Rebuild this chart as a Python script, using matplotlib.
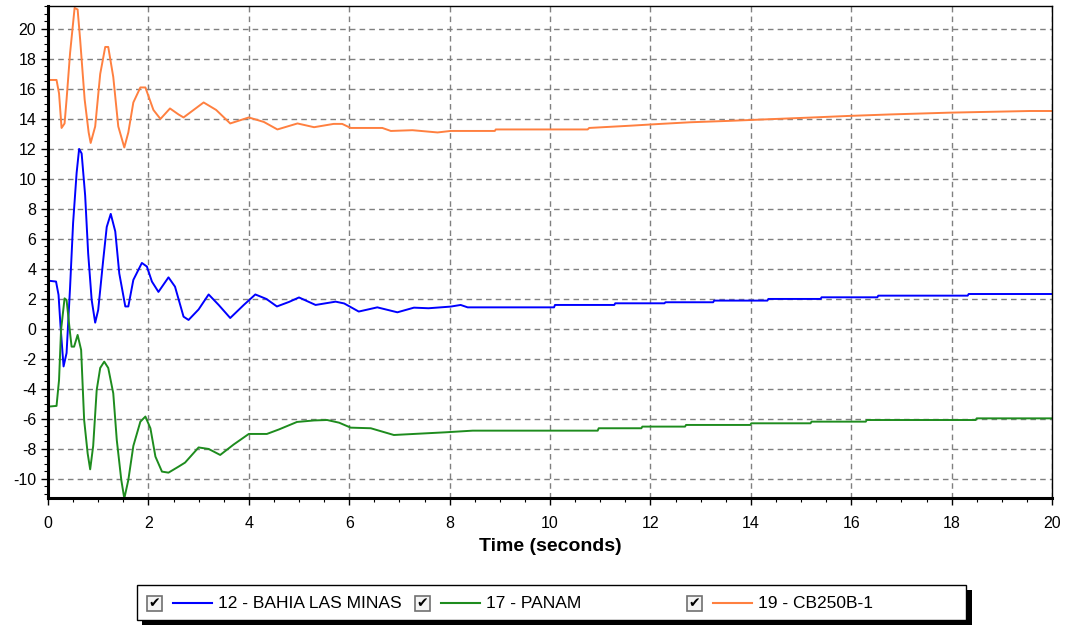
import numpy as np
import matplotlib.pyplot as plt
from matplotlib.patches import Rectangle
from matplotlib.lines import Line2D
from matplotlib.ticker import MultipleLocator

# values (time in s)
t_bahia = [0.0, 0.16, 0.21, 0.25, 0.31, 0.37, 0.44, 0.50, 0.57, 0.62, 0.67, 0.74, 0.80, 0.87, 0.94,
           1.00, 1.10, 1.17, 1.25, 1.34, 1.42, 1.54, 1.60, 1.70, 1.87, 1.97, 2.07, 2.20, 2.40, 2.53,
           2.70, 2.80, 3.00, 3.20, 3.40, 3.63, 3.90, 4.13, 4.35, 4.56, 4.80, 5.00, 5.33, 5.73,
           5.90, 6.19, 6.56, 6.96, 7.29, 7.58, 8.02, 8.22, 8.36, 10.08, 10.10, 11.28, 11.30, 12.28,
           12.30, 13.25, 13.27, 14.33, 14.35, 15.39, 15.41, 16.52, 16.54, 18.32, 18.34, 20.0]
v_bahia = [3.22, 3.16, 2.27, 0.16, -2.5, -1.6, 2.8, 7.07, 10.4, 12.0, 11.7, 8.9, 5.04, 1.93, 0.42,
           1.27, 4.6, 6.8, 7.67, 6.5, 3.7, 1.5, 1.5, 3.27, 4.4, 4.16, 3.16, 2.47, 3.44, 2.82,
           0.82, 0.6, 1.3, 2.3, 1.6, 0.73, 1.6, 2.3, 2.0, 1.5, 1.8, 2.1, 1.6, 1.82,
           1.7, 1.16, 1.44, 1.11, 1.42, 1.38, 1.49, 1.6, 1.44, 1.44, 1.6, 1.6, 1.71, 1.71,
           1.78, 1.78, 1.89, 1.89, 2.0, 2.0, 2.11, 2.11, 2.22, 2.22, 2.33, 2.33]

t_panam = [0.0, 0.17, 0.22, 0.26, 0.33, 0.37, 0.44, 0.47, 0.52, 0.59, 0.66, 0.72, 0.79, 0.84, 0.90,
           0.97, 1.04, 1.12, 1.20, 1.30, 1.37, 1.46, 1.52, 1.60, 1.70, 1.84, 1.94, 2.04, 2.14, 2.27,
           2.40, 2.60, 2.73, 3.00, 3.20, 3.43, 3.70, 4.00, 4.36, 4.60, 4.96, 5.30, 5.56, 5.80,
           6.03, 6.43, 6.89, 7.00, 7.92, 8.46, 10.95, 10.97, 11.82, 11.84, 12.69, 12.71, 13.99, 14.01,
           15.19, 15.21, 16.29, 16.31, 18.48, 18.50, 20.0]
v_panam = [-5.18, -5.13, -3.4, -0.07, 2.04, 1.93, -0.29, -1.18, -1.18, -0.4, -1.4, -6.07, -8.3, -9.36, -7.8,
           -4.07, -2.6, -2.18, -2.6, -4.29, -7.4, -10.07, -11.3, -10.07, -7.8, -6.18, -5.84, -6.62, -8.51, -9.51,
           -9.58, -9.18, -8.91, -7.9, -8.0, -8.4, -7.7, -7.0, -7.0, -6.7, -6.2, -6.1, -6.07, -6.25,
           -6.58, -6.62, -7.07, -7.05, -6.89, -6.78, -6.78, -6.62, -6.62, -6.51, -6.51, -6.4, -6.4, -6.29,
           -6.29, -6.18, -6.18, -6.07, -6.07, -5.96, -5.96]

t_cb250 = [0.0, 0.17, 0.22, 0.27, 0.33, 0.37, 0.44, 0.53, 0.59, 0.64, 0.73, 0.81, 0.85, 0.94, 1.04,
           1.14, 1.20, 1.30, 1.40, 1.52, 1.60, 1.70, 1.84, 1.94, 2.10, 2.24, 2.43, 2.60, 2.70, 2.90,
           3.10, 3.35, 3.63, 4.00, 4.30, 4.57, 4.97, 5.30, 5.69, 5.86, 6.03, 6.66, 6.83, 7.26, 7.76,
           8.02, 8.90, 8.92, 10.75, 10.78, 11.60, 12.20, 12.80, 13.55, 14.35, 15.17, 15.94, 16.77, 17.96,
           19.56, 20.0]
v_cb250 = [16.6, 16.6, 15.7, 13.4, 13.7, 15.3, 18.4, 21.4, 21.3, 19.3, 15.3, 13.1, 12.4, 13.5, 17.0,
           18.8, 18.8, 16.8, 13.5, 12.1, 13.1, 15.1, 16.1, 16.1, 14.6, 14.0, 14.7, 14.3, 14.1, 14.6,
           15.1, 14.6, 13.7, 14.1, 13.8, 13.3, 13.7, 13.45, 13.67, 13.67, 13.4, 13.4, 13.2, 13.25, 13.1,
           13.2, 13.2, 13.3, 13.3, 13.4, 13.55, 13.67, 13.78, 13.87, 13.98, 14.09, 14.2, 14.3, 14.42,
           14.53, 14.53]

names = ["12 - BAHIA LAS MINAS", "17 - PANAM", "19 - CB250B-1"]
colors = ["#0000ff", "#1e8c1e", "#ff8040"]

W, H = 1066, 625
plt.rcParams['font.family'] = ['Liberation Sans', 'DejaVu Sans']
plt.rcParams['axes.unicode_minus'] = False
fig = plt.figure(figsize=(W / 100, H / 100), dpi=100)
ax = fig.add_axes([48 / W, 1 - 498 / H, (1052 - 48) / W, (498 - 6) / H])

ax.plot(t_bahia, v_bahia, color=colors[0], lw=1.4)
ax.plot(t_panam, v_panam, color=colors[1], lw=1.4)
ax.plot(t_cb250, v_cb250, color=colors[2], lw=1.4)

ax.set_xlim(0, 20)
ax.set_ylim(-11.27, 21.53)
ax.xaxis.set_major_locator(MultipleLocator(2))
ax.xaxis.set_minor_locator(MultipleLocator(0.5))
ax.yaxis.set_major_locator(MultipleLocator(2))
ax.yaxis.set_minor_locator(MultipleLocator(0.5))
ax.grid(True, which='major', color='#808080', linestyle=(0, (4, 3)), linewidth=1)
ax.tick_params(which='major', length=5, width=1, labelsize=11.5, direction='out')
ax.tick_params(which='minor', length=3, width=0.8, direction='out')
ax.tick_params(axis='x', which='major', pad=8)
for s in ['left', 'bottom']:
    ax.spines[s].set_linewidth(2.2)
for s in ['top', 'right']:
    ax.spines[s].set_linewidth(1)
ax.set_xlabel("Time (seconds)", fontsize=14, fontweight='bold', labelpad=5)

# legend box drawn by hand
def fx(x):
    return x / W

def fy(y):
    return 1 - y / H

fig.add_artist(Rectangle((fx(142), fy(625)), fx(972) - fx(142), fy(590) - fy(625),
                         transform=fig.transFigure, facecolor='black', edgecolor='none'))
fig.add_artist(Rectangle((fx(137), fy(620)), fx(966) - fx(137), fy(585) - fy(620),
                         transform=fig.transFigure, facecolor='white', edgecolor='black', lw=1))
boxes = [147, 415, 687]
for i in range(3):
    bx = boxes[i]
    fig.add_artist(Rectangle((fx(bx), fy(611)), fx(15), fy(596) - fy(611),
                             transform=fig.transFigure, facecolor='#f4f4f4', edgecolor='#707070', lw=1.2))
    fig.text(fx(bx + 7.5), fy(603.5), "\u2714", ha='center', va='center', fontsize=10,
             family=['DejaVu Sans'])
    fig.add_artist(Line2D([fx(bx + 26), fx(bx + 65)], [fy(603), fy(603)], color=colors[i], lw=1.5,
                          transform=fig.transFigure))
    fig.text(fx(bx + 71), fy(603.5), names[i], ha='left', va='center', fontsize=12.5)

fig.savefig("out.png", dpi=100)
